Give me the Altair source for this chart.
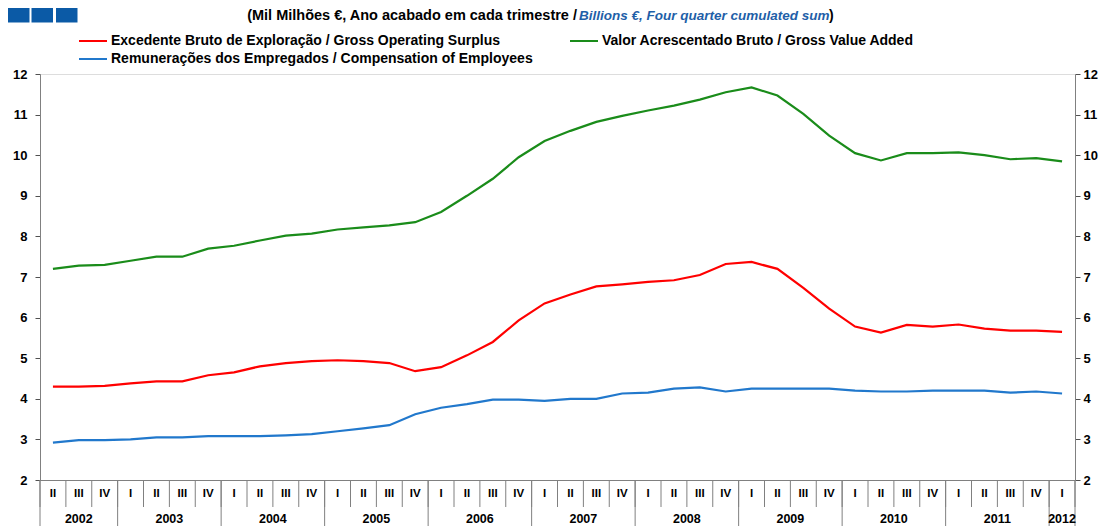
import altair as alt
import pandas as pd
import numpy as np

# ---------------- data ----------------
years = [2002, 2002, 2002,
         2003, 2003, 2003, 2003,
         2004, 2004, 2004, 2004,
         2005, 2005, 2005, 2005,
         2006, 2006, 2006, 2006,
         2007, 2007, 2007, 2007,
         2008, 2008, 2008, 2008,
         2009, 2009, 2009, 2009,
         2010, 2010, 2010, 2010,
         2011, 2011, 2011, 2011,
         2012]
quarters = ["II", "III", "IV",
            "I", "II", "III", "IV",
            "I", "II", "III", "IV",
            "I", "II", "III", "IV",
            "I", "II", "III", "IV",
            "I", "II", "III", "IV",
            "I", "II", "III", "IV",
            "I", "II", "III", "IV",
            "I", "II", "III", "IV",
            "I", "II", "III", "IV",
            "I"]

gos = [4.30, 4.30, 4.32,
       4.38, 4.43, 4.43, 4.58,
       4.65, 4.80, 4.88, 4.93,
       4.95, 4.93, 4.88, 4.68,
       4.78, 5.07, 5.40, 5.93,
       6.35, 6.57, 6.77, 6.82,
       6.88, 6.92, 7.05, 7.32,
       7.37, 7.20, 6.73, 6.22,
       5.78, 5.63, 5.82, 5.78,
       5.83, 5.73, 5.68, 5.68,
       5.65]
gva = [7.20, 7.28, 7.30,
       7.40, 7.50, 7.50, 7.70,
       7.77, 7.90, 8.02, 8.07,
       8.17, 8.22, 8.27, 8.35,
       8.60, 9.00, 9.42, 9.95,
       10.35, 10.60, 10.82, 10.97,
       11.10, 11.22, 11.37, 11.55,
       11.67, 11.47, 11.02, 10.48,
       10.05, 9.87, 10.05, 10.05,
       10.07, 10.00, 9.90, 9.93,
       9.85]
coe = [2.92, 2.98, 2.98,
       3.00, 3.05, 3.05, 3.08,
       3.08, 3.08, 3.10, 3.13,
       3.20, 3.27, 3.35, 3.62,
       3.78, 3.87, 3.98, 3.98,
       3.95, 4.00, 4.00, 4.13,
       4.15, 4.25, 4.28, 4.18,
       4.25, 4.25, 4.25, 4.25,
       4.20, 4.18, 4.18, 4.20,
       4.20, 4.20, 4.15, 4.18,
       4.13]

s_gos = "Excedente Bruto de Exploração / Gross Operating Surplus"
s_gva = "Valor Acrescentado Bruto / Gross Value Added"
s_coe = "Remunerações dos Empregados / Compensation of Employees"
series_order = [s_gos, s_gva, s_coe]
series_colors = ["#FF0000", "#1A8C1A", "#2178CC"]

title_black = "(Mil Milhões €, Ano acabado em cada trimestre / "
title_blue = "Billions €, Four quarter cumulated sum"
title_close = ")"

y_ticks = list(range(2, 13))

# ---------------- frames ----------------
n = len(quarters)
df = pd.DataFrame({"idx": np.arange(n), "year": years, "q": quarters,
                   s_gos: gos, s_gva: gva, s_coe: coe})
long = df.melt(id_vars=["idx", "year", "q"], value_vars=series_order,
               var_name="series", value_name="value")

qbounds = pd.DataFrame({"b": np.arange(n + 1) - 0.5})
ybounds = pd.DataFrame({"b": list(df.groupby("year")["idx"].min() - 0.5) + [n - 0.5]})

W, H = 1035, 406
FONT = "Liberation Sans"

xs = alt.Scale(domain=[-0.5, n - 0.5], nice=False, zero=False)
ys = alt.Scale(domain=[2, 12], nice=False, zero=False)
xaxis = alt.Axis(labels=False, ticks=False, grid=False, title=None,
                 domain=True, domainColor="#808080", domainWidth=1)

def yaxis(orient, pad):
    return alt.Axis(orient=orient, values=y_ticks, grid=False, title=None,
                    domainColor="#808080", domainWidth=1, tickColor="#505050",
                    tickSize=5, labelFont=FONT, labelFontSize=13,
                    labelFontWeight="bold", labelColor="black", labelPadding=pad)

lines = alt.Chart(long).mark_line(strokeWidth=2.2).encode(
    x=alt.X("idx:Q", scale=xs, axis=xaxis),
    y=alt.Y("value:Q", scale=ys, axis=yaxis("left", 8)),
    color=alt.Color("series:N",
                    scale=alt.Scale(domain=series_order, range=series_colors),
                    legend=alt.Legend(orient="none", legendX=45, legendY=-41,
                                      direction="horizontal",
                                      columns=2, columnPadding=33, rowPadding=3,
                                      title=None, symbolType="M-2,0L2,0",
                                      symbolSize=196, symbolStrokeWidth=2,
                                      labelFont=FONT, labelFontSize=14,
                                      labelFontWeight="bold", labelColor="black",
                                      labelLimit=900, labelOffset=10)),
)

right = alt.Chart(long).mark_line(opacity=0).encode(
    x=alt.X("idx:Q", scale=xs, axis=xaxis),
    y=alt.Y("value:Q", scale=ys, axis=yaxis("right", 3)),
)

q_text = alt.Chart(df).mark_text(font=FONT, fontSize=11.5, fontWeight="bold",
                                 color="black", baseline="middle").encode(
    x=alt.X("idx:Q", scale=xs, axis=xaxis),
    y=alt.value(H + 14),
    text="q:N",
)

q_sep = alt.Chart(qbounds).mark_rule(color="#808080", strokeWidth=1).encode(
    x=alt.X("b:Q", scale=xs, axis=xaxis),
    y=alt.value(H),
    y2=alt.value(H + 27),
)

y_sep = alt.Chart(ybounds).mark_rule(color="#808080", strokeWidth=1).encode(
    x=alt.X("b:Q", scale=xs, axis=xaxis),
    y=alt.value(H),
    y2=alt.value(H + 50),
)

y_text = alt.Chart(df).transform_aggregate(
    m="mean(idx)", groupby=["year"]
).mark_text(font=FONT, fontSize=12.5, fontWeight="bold", color="black",
            baseline="middle").encode(
    x=alt.X("m:Q", scale=xs, axis=xaxis),
    y=alt.value(H + 39),
    text="year:N",
)

t1 = alt.Chart(pd.DataFrame({"t": [title_black]})).mark_text(
    font=FONT, fontSize=14.5, fontWeight="bold", color="black",
    align="right", baseline="middle").encode(
    text="t:N", x=alt.value(537), y=alt.value(-58))
t2 = alt.Chart(pd.DataFrame({"t": [title_blue]})).mark_text(
    font=FONT, fontSize=13.5, fontWeight="bold", fontStyle="italic",
    color="#1F5FA8", align="left", baseline="middle").encode(
    text="t:N", x=alt.value(539), y=alt.value(-58))
t3 = alt.Chart(pd.DataFrame({"t": [title_close]})).mark_text(
    font=FONT, fontSize=14, fontWeight="bold", color="black",
    align="left", baseline="middle").encode(
    text="t:N", x=alt.value(789), y=alt.value(-58))

sq_color = "#0B5AA6"
squares = []
for x0 in [-32, -8.5, 16]:
    squares.append(alt.Chart(pd.DataFrame({"a": [0]})).mark_rect(color=sq_color).encode(
        x=alt.value(x0), x2=alt.value(x0 + 21.5),
        y=alt.value(-66), y2=alt.value(-51.5)))

chart = alt.layer(
    q_sep, y_sep, q_text, y_text, right, lines, t1, t2, t3, *squares
).resolve_axis(y="independent").properties(
    width=W, height=H,
    autosize=alt.AutoSizeParams(type="none"),
    padding={"left": 32, "top": 66, "right": 26, "bottom": 48},
).configure_view(stroke=None).configure(background="white")

chart.save("out.html", embed_options={"renderer": "svg", "actions": False})
